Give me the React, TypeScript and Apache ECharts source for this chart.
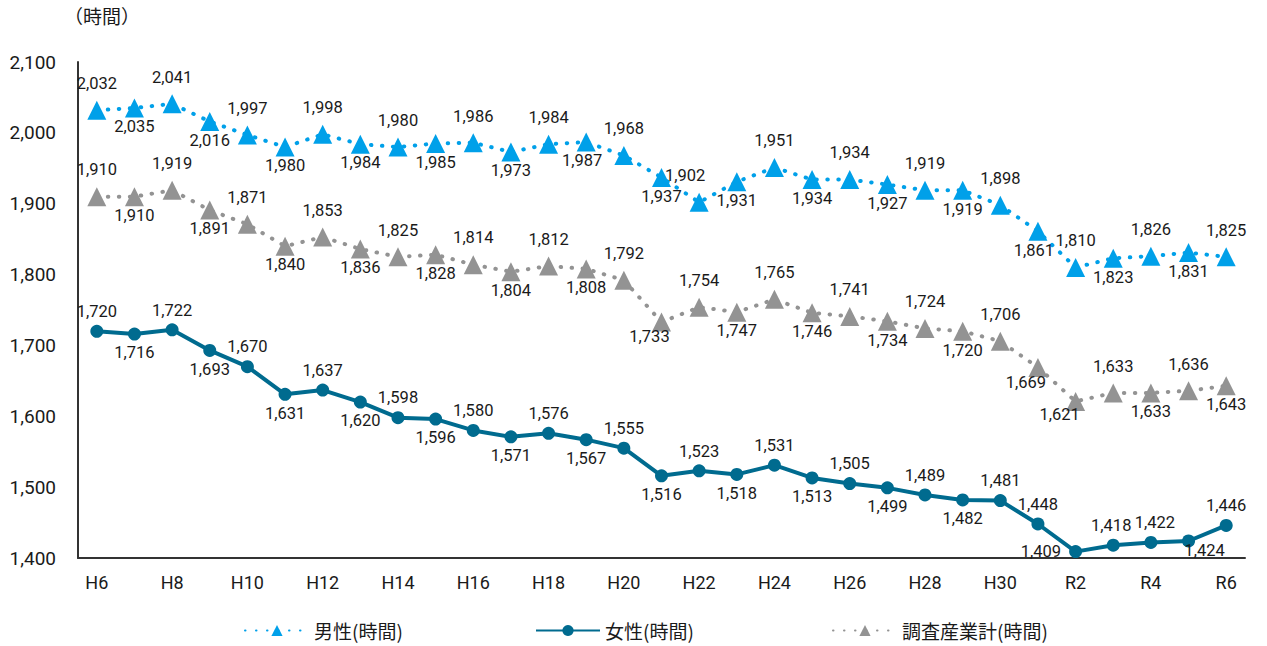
import React, { useEffect, useRef } from "react";
import * as echarts from "echarts";

const categories = [
  "H6", "H7", "H8", "H9", "H10", "H11", "H12", "H13", "H14", "H15", "H16",
  "H17", "H18", "H19", "H20", "H21", "H22", "H23", "H24", "H25", "H26", "H27",
  "H28", "H29", "H30", "R1", "R2", "R3", "R4", "R5", "R6",
];

const maleHours = [
  2032, 2035, 2041, 2016, 1997, 1980, 1998, 1984, 1980, 1985, 1986, 1973, 1984,
  1987, 1968, 1937, 1902, 1931, 1951, 1934, 1934, 1927, 1919, 1919, 1898, 1861,
  1810, 1823, 1826, 1831, 1825,
];

const femaleHours = [
  1720, 1716, 1722, 1693, 1670, 1631, 1637, 1620, 1598, 1596, 1580, 1571, 1576,
  1567, 1555, 1516, 1523, 1518, 1531, 1513, 1505, 1499, 1489, 1482, 1481, 1448,
  1409, 1418, 1422, 1424, 1446,
];

const totalHours = [
  1910, 1910, 1919, 1891, 1871, 1840, 1853, 1836, 1825, 1828, 1814, 1804, 1812,
  1808, 1792, 1733, 1754, 1747, 1765, 1746, 1741, 1734, 1724, 1720, 1706, 1669,
  1621, 1633, 1633, 1636, 1643,
];

const yTicks = { min: 1400, max: 2100, interval: 100 };

const seriesNames = ["男性(時間)", "女性(時間)", "調査産業計(時間)"];

// label placement: t = above, b = below, l = left
const malePos = "tbtbtbtbtbtbtbtbtbtbtbtbtbtbtbt";
const femalePos = "tbtbtbtbtbtbtbtbtbtbtbtbttlttbt";
const totalPos = "tbtbtbtbtbtbtbtbtbtbtbtbtbbtbtb";

// small per-label nudges [index, dx, dy]
const maleNudge: [number, number, number][] = [[13, -4, 0], [16, -14, 0], [25, -4, 0]];
const femaleNudge: [number, number, number][] = [[29, 16, -9], [27, -2, 0], [28, 4, 0]];
const totalNudge: [number, number, number][] = [[15, -12, -4], [25, -12, -4], [26, -16, -6]];

const fmt = (v: number) => v.toLocaleString("en-US");

const FONT = "Roboto, 'Noto Sans CJK JP', sans-serif";

function buildData(
  values: number[],
  pos: string,
  topDist: number,
  botDist: number,
  nudges: [number, number, number][]
) {
  return values.map((v, i) => {
    const p = pos[i];
    const n = nudges.find((x) => x[0] === i);
    return {
      value: v,
      label: {
        position: p === "t" ? "top" : p === "b" ? "bottom" : "left",
        distance: p === "t" ? topDist : p === "b" ? botDist : 8,
        offset: n ? [n[1], n[2]] : [0, 0],
      },
    };
  });
}

export default function App() {
  const ref = useRef<HTMLDivElement>(null);

  useEffect(() => {
    if (!ref.current) return;
    const chart = echarts.init(ref.current, undefined, { renderer: "svg" });
    const labelBase = {
      show: true,
      color: "#1a1a1a",
      fontSize: 16.5,
      fontFamily: FONT,
      formatter: (p: any) => fmt(p.value),
    };
    const dotted = [0.5, 10.5];
    chart.setOption({
      animation: false,
      backgroundColor: "#fff",
      textStyle: { fontFamily: FONT },
      grid: { left: 78, right: 22, top: 62, bottom: 88, containLabel: false },
      graphic: [
        {
          type: "text",
          left: 64,
          top: 6,
          style: {
            text: "（時間）",
            fontSize: 19,
            fontFamily: "'Noto Sans CJK JP', sans-serif",
            fill: "#1a1a1a",
          },
        },
      ],
      legend: seriesNames.map((n, i) => ({
        data: [n],
        left: [244, 535, 832][i],
        top: 619,
        itemWidth: 64,
        itemHeight: 14,
        itemGap: 5,
        padding: [2, 5, 2, 0],
        textStyle: {
          fontSize: 19,
          color: "#1a1a1a",
          fontFamily: "'Noto Sans CJK JP', sans-serif",
        },
      })),
      xAxis: {
        type: "category",
        data: categories,
        boundaryGap: true,
        axisLine: { lineStyle: { color: "#333", width: 2 } },
        axisTick: { show: false },
        axisLabel: {
          interval: 1,
          fontSize: 18,
          color: "#1a1a1a",
          margin: 15,
          fontFamily: FONT,
        },
      },
      yAxis: {
        type: "value",
        min: yTicks.min,
        max: yTicks.max,
        interval: yTicks.interval,
        axisLine: { show: true, lineStyle: { color: "#333", width: 2 } },
        axisTick: { show: false },
        splitLine: { show: false },
        axisLabel: {
          fontSize: 19,
          color: "#1a1a1a",
          margin: 22,
          fontFamily: FONT,
          formatter: (v: number) => fmt(v),
        },
      },
      series: [
        {
          name: seriesNames[0],
          type: "line",
          data: buildData(maleHours, malePos, 9, 1, maleNudge),
          symbol: "triangle",
          symbolSize: 19,
          itemStyle: { color: "#00A0E9" },
          lineStyle: { color: "#00A0E9", width: 4, type: dotted, cap: "round" },
          label: labelBase,
          z: 3,
        },
        {
          name: seriesNames[1],
          type: "line",
          data: buildData(femaleHours, femalePos, 5, 4, femaleNudge),
          symbol: "circle",
          symbolSize: 13,
          itemStyle: { color: "#006B8F" },
          lineStyle: { color: "#006B8F", width: 4 },
          label: labelBase,
          z: 2,
        },
        {
          name: seriesNames[2],
          type: "line",
          data: buildData(totalHours, totalPos, 9, 1, totalNudge),
          symbol: "triangle",
          symbolSize: 19,
          itemStyle: { color: "#939393" },
          lineStyle: { color: "#939393", width: 4, type: dotted, cap: "round" },
          label: labelBase,
          z: 2,
        },
      ],
    });
    return () => chart.dispose();
  }, []);

  return (
    <div
      ref={ref}
      style={{ position: "fixed", left: 0, top: 0, width: 1267, height: 646 }}
    />
  );
}
